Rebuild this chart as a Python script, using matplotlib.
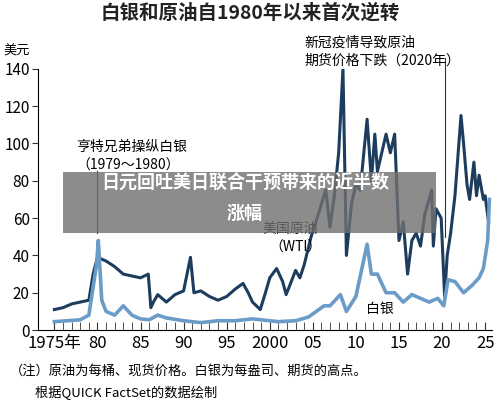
import matplotlib.pyplot as plt
from matplotlib.patches import Rectangle

plt.rcParams['font.family'] = ['Noto Sans CJK SC', 'DejaVu Sans']

oil_years = [1975, 1976, 1977, 1978, 1979.0, 1979.5, 1980, 1981, 1982, 1983, 1984, 1985,
             1985.9, 1986.2, 1986.5, 1987, 1988, 1989, 1990.0, 1990.8, 1991.2, 1992, 1993,
             1994, 1995, 1996, 1996.9, 1997.5, 1998, 1998.9, 1999.5, 2000, 2000.8, 2001.5,
             2001.9, 2002.5, 2003, 2003.5, 2004, 2004.8, 2005.5, 2006.5, 2007, 2007.5, 2008.0,
             2008.5, 2008.9, 2009.5, 2010, 2010.5, 2011.3, 2011.8, 2012.2, 2012.5, 2013.5,
             2014.0, 2014.5, 2015.0, 2015.5, 2016.0, 2016.5, 2017, 2017.5, 2018.0, 2018.8,
             2018.99, 2019.3, 2019.9, 2020.3, 2020.6, 2021, 2021.5, 2022.2, 2022.5, 2022.9,
             2023.2, 2023.7, 2024.0, 2024.3, 2024.8, 2025.0, 2025.4]
oil = [11, 12, 14, 15, 16, 30, 39, 37, 34, 30, 29, 28,
       30, 12, 15, 19, 15, 19, 21, 39, 20, 21, 18,
       16, 18, 22, 25, 20, 15, 11, 20, 28, 33, 26,
       19, 26, 32, 28, 35, 50, 60, 75, 55, 72, 95,
       140, 40, 68, 78, 75, 113, 80, 105, 85, 105,
       95, 105, 48, 58, 30, 48, 52, 45, 62, 75,
       45, 65, 60, 18, 40, 52, 72, 115, 100, 78,
       70, 90, 72, 83, 70, 72, 58]

silver_years = [1975, 1978, 1979, 1979.9, 1980.1, 1980.5, 1981, 1982, 1983, 1984, 1985, 1986,
                1987, 1988, 1990, 1992, 1994, 1996, 1998, 2001, 2003, 2004.5, 2006.3, 2007,
                2008.2, 2008.9, 2010, 2011.3, 2011.8, 2012.5, 2013.5, 2014.5, 2015.5, 2016.5,
                2017.5, 2018.5, 2019.5, 2020.2, 2020.7, 2021.5, 2022.5, 2023.5, 2024.3, 2024.8,
                2025.3, 2025.5]
silver = [4.5, 5.5, 8, 35, 48, 16, 10, 8, 13, 8, 6, 5.5,
          8, 6.5, 5, 4, 5, 5, 6, 4.5, 5, 7, 13, 13,
          19, 10, 18, 46, 30, 30, 20, 20, 15, 19,
          17, 15, 17, 13, 27, 26, 20, 24, 28, 33,
          48, 70]

xtick_pos = [1975, 1980, 1985, 1990, 1995, 2000, 2005, 2010, 2015, 2020, 2025]
xtick_lab = ['1975年', '80', '85', '90', '95', '2000', '05', '10', '15', '20', '25']

fig = plt.figure(figsize=(5, 4.05), dpi=100)
ax = fig.add_axes([0.076, 0.185, 0.908, 0.645])
ax.plot(oil_years, oil, color='#1d3d5e', lw=2.2)
ax.plot(silver_years, silver, color='#6b9cc8', lw=2.6)
ax.set_xlim(1973.1, 2025.8)
ax.set_ylim(0, 140)
ax.set_yticks(range(0, 141, 20))
ax.set_xticks(xtick_pos, xtick_lab)
ax.set_xticks(range(1976, 2026), minor=True)
ax.tick_params(axis='y', labelsize=11, length=4, pad=2, color='#333')
ax.tick_params(axis='x', which='both', labelsize=12, direction='in', length=6, color='#333')
for s in ['top', 'right']:
    ax.spines[s].set_visible(False)
ax.text(-0.075, 1.055, '美元', transform=ax.transAxes, fontsize=9.5)

# annotations
ax.plot([1980, 1980], [52, 85], color='#333', lw=0.8)
ax.text(1977.5, 96, '亨特兄弟操纵白银', fontsize=10)
ax.text(1977.5, 86, '（1979～1980）', fontsize=10)
ax.plot([2020.3, 2020.3], [50, 146], color='#333', lw=0.8, clip_on=False)
ax.text(2004, 152, '新冠疫情导致原油', fontsize=10, clip_on=False)
ax.text(2004, 142, '期货价格下跌（2020年）', fontsize=10, clip_on=False)
ax.text(1999.2, 52, '美国原油', fontsize=10)
ax.text(1999.9, 42, '（WTI）', fontsize=10)
ax.text(2011.2, 9, '白银', fontsize=10)

fig.text(0.5, 0.955, '白银和原油自1980年以来首次逆转', ha='center', fontsize=14,
         fontweight='bold', color='#222')
fig.text(0.02, 0.075, '（注）原油为每桶、现货价格。白银为每盎司、期货的高点。', fontsize=9.5)
fig.text(0.07, 0.02, '根据QUICK FactSet的数据绘制', fontsize=9.5)

# overlay banner
fig.patches.append(Rectangle((0.126, 0.425), 0.746, 0.15, transform=fig.transFigure,
                             facecolor='#707070', alpha=0.8, zorder=10))
fig.text(0.49, 0.535, '日元回吐美日联合干预带来的近半数', ha='center', fontsize=13,
         fontweight='bold', color='white', zorder=11)
fig.text(0.49, 0.46, '涨幅', ha='center', fontsize=13, fontweight='bold',
         color='white', zorder=11)

fig.savefig('out.png')
